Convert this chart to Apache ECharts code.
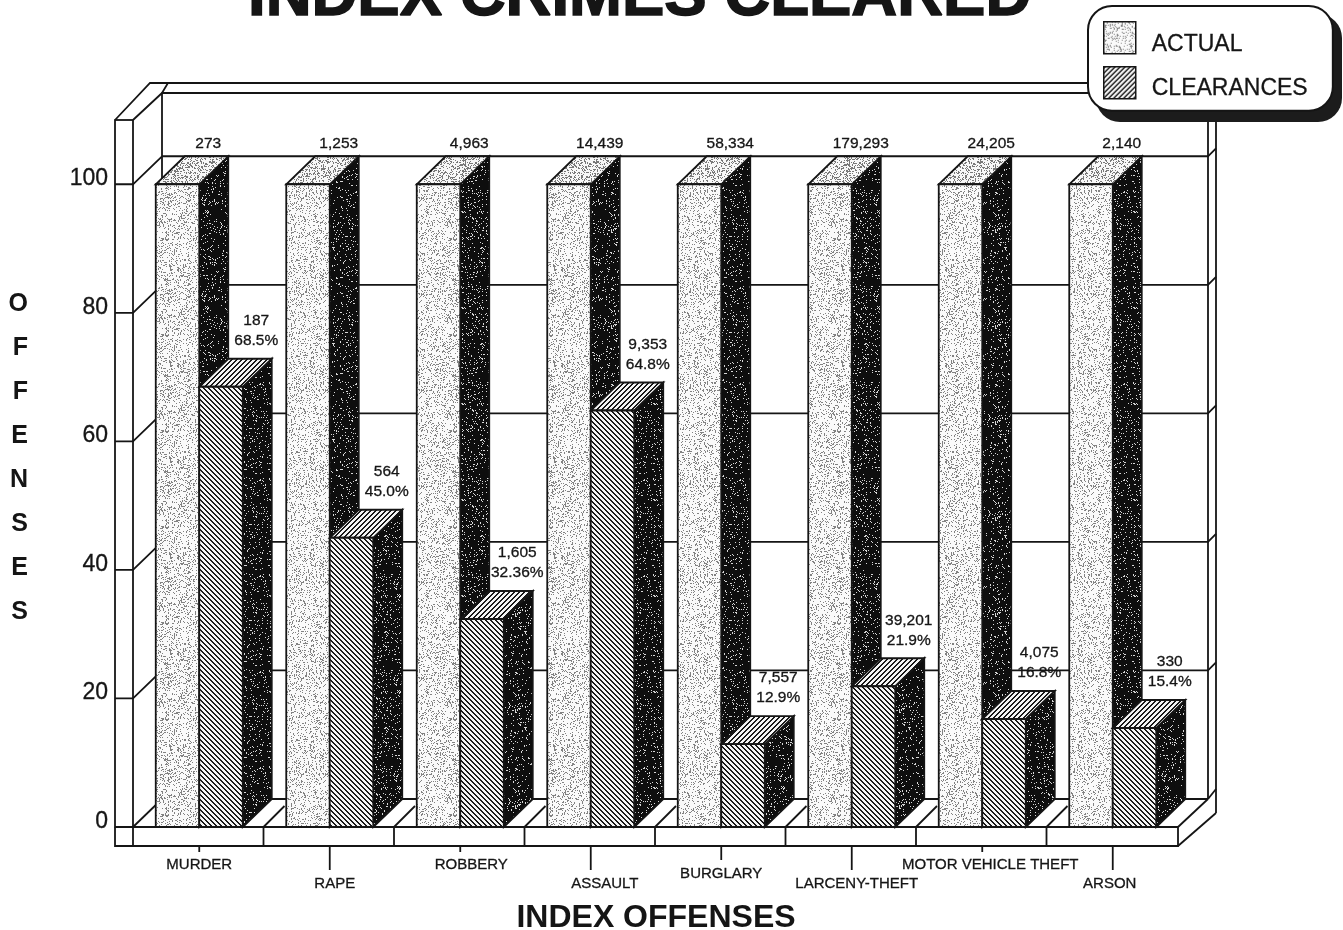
<!DOCTYPE html>
<html><head><meta charset="utf-8">
<style>html,body{margin:0;padding:0;background:#fff}#c{width:1343px;height:930px}</style>
<script src="https://cdn.jsdelivr.net/npm/echarts@6/dist/echarts.min.js"></script>
</head><body><div id="c"></div>
<script>
const categories = ['MURDER','RAPE','ROBBERY','ASSAULT','BURGLARY','LARCENY-THEFT','MOTOR VEHICLE THEFT','ARSON'];
const actualPct = [100,100,100,100,100,100,100,100];
const clearancePct = [68.5,45.0,32.36,64.8,12.9,21.9,16.8,15.4];
const actualCounts = ['273','1,253','4,963','14,439','58,334','179,293','24,205','2,140'];
const clearanceCounts = ['187','564','1,605','9,353','7,557','39,201','4,075','330'];
const clearanceRates = ['68.5%','45.0%','32.36%','64.8%','12.9%','21.9%','16.8%','15.4%'];
const yTicks = [20,40,60,80,100];

// layout only (not data)
const labelDrop = [0,19,0,19,9,19,0,19];
const labelShift = [0,5,11,14,0,5,8,-3];
const tickEnd = [6,24,6,24,14,24,6,24];
const DX = 29, DY = 28, INK = '#151515';
const FONT = '"Liberation Sans", Arial, sans-serif';

function tile(w,h,fn){
  const c=document.createElement('canvas');c.width=w;c.height=h;
  const g=c.getContext('2d');const im=g.createImageData(w,h);
  for(let y=0;y<h;y++)for(let x=0;x<w;x++){
    const v=fn(x,y),i=(y*w+x)*4;im.data[i]=im.data[i+1]=im.data[i+2]=v;im.data[i+3]=255;
  }
  g.putImageData(im,0,0);return {image:c,repeat:'repeat'};
}
let seed=12345;
const lcg=()=>{seed=(seed*1103515245+12345)&0x7fffffff;return (seed>>>8)%1000/1000;};
const speckle=(p,hi,lo)=>tile(96,96,()=>lcg()<p?lo:hi);
const fillLight=speckle(0.20,250,130);
const fillLightTop=speckle(0.30,248,120);
const fillDark=speckle(0.09,14,215);
const hatchBack=tile(5,5,(x,y)=>((x-y+10)%5)<2?25:245);
const hatchFwd=tile(5,5,(x,y)=>((x+y)%5)<2?25:245);

const ln=(pts,w)=>({type:'polyline',silent:true,shape:{points:pts},style:{fill:null,stroke:INK,lineWidth:w||1.8}});
const poly=(pts,fill)=>({type:'polygon',silent:true,shape:{points:pts},style:{fill:fill,stroke:INK,lineWidth:1.8}});

function bar3d(api,side,frontFill,topFill){
  const idx=api.value(0),v=api.value(1);
  const base=api.coord([idx,0]),top=api.coord([idx,v]);
  const w=api.size([1,0])[0]/3;
  const x0=side<0?base[0]-w:base[0],x1=x0+w,y0=base[1],y1=top[1];
  return [
    poly([[x1,y0],[x1+DX,y0-DY],[x1+DX,y1-DY],[x1,y1]],fillDark),
    poly([[x0,y1],[x0+DX,y1-DY],[x1+DX,y1-DY],[x1,y1]],topFill),
    poly([[x0,y0],[x1,y0],[x1,y1],[x0,y1]],frontFill)
  ];
}
const txt=(t,x,y)=>({type:'text',silent:true,style:{text:t,x:x,y:y,fill:INK,stroke:INK,lineWidth:0.3,fontSize:15.5,fontFamily:FONT,align:'center',verticalAlign:'middle'}});

function renderFrame(params,api){
  const g=params.coordSys,L=g.x,R=g.x+g.width,T=g.y,B=g.y+g.height;
  const sx=L-19,bw=g.width/8,fb=B+19,ch=[];
  const wx=L+DX-1,wr=R+DX+1,wo=R+DX+9;
  ch.push(ln([[sx,T],[L-1,T]]),ln([[sx,T],[sx+35,T-37],[1150,T-37]]),ln([[L-1,T],[wx,T-27],[1150,T-27]]),
    ln([[sx+35,T-37],[L+34,T-37],[wx,T-27]]),ln([[wx,T-27],[wx,B-DY]]),ln([[L-1,T],[L-1,fb]]));
  ch.push(ln([[wx,B-DY],[wr,B-DY]]),ln([[L-1,B],[wx,B-DY]]));
  ch.push(ln([[wr,T],[wr,B-DY]]),ln([[wo,T],[wo,B-DY+14]]));
  yTicks.concat([0]).forEach(v=>{
    const y=api.coord([0,v])[1];
    if(v>0)ch.push(ln([[sx,y],[L-1,y],[wx,y-DY]]),ln([[wx,y-DY],[wr,y-DY],[wo,y-DY-8]]));
    else ch.push(ln([[wr,y-DY],[wo,y-DY-10]]));
  });
  ch.push(ln([[sx,B],[R,B],[R,fb],[sx,fb],[sx,B]]));
  for(let i=1;i<8;i++){
    const x=L+bw*i-1;
    ch.push(ln([[x,B],[x,fb]]),ln([[x,B],[x+21,B-21]]));
  }
  ch.push(ln([[R,B],[wr,B-DY]]),ln([[R,fb],[wo,B-DY+14]]));
  categories.forEach((c,i)=>{
    const x=api.coord([i,0])[0];
    ch.push(ln([[x,fb],[x,fb+tickEnd[i]]]));
  });
  return {type:'group',children:ch};
}

const option={
  animation:false,
  backgroundColor:'#fff',
  title:{text:'INDEX CRIMES CLEARED',left:248,top:-35,padding:0,
    textStyle:{fontFamily:FONT,fontSize:63.5,fontWeight:'bold',color:INK,textBorderColor:INK,textBorderWidth:1.5}},
  graphic:[{type:'rect',z:5,silent:true,shape:{x:1096,y:14,width:246,height:108,r:24},style:{fill:'#1c1c1c'}}],
  legend:{z:6,left:1088,top:6,orient:'vertical',icon:'rect',itemWidth:32,itemHeight:32,itemGap:10,
    padding:[15,25,10,15],backgroundColor:'#fff',borderColor:INK,borderWidth:2,borderRadius:24,
    formatter:n=>'{s| }\n'+n,
    textStyle:{fontFamily:FONT,fontSize:23,color:INK,textBorderColor:INK,textBorderWidth:0.3,padding:[0,0,0,11],
      rich:{s:{lineHeight:13,fontSize:1}}},
    data:[{name:'ACTUAL',itemStyle:{color:fillLight,borderColor:INK,borderWidth:1.5}},
          {name:'CLEARANCES',itemStyle:{color:hatchFwd,borderColor:INK,borderWidth:1.5}}]},
  grid:{left:134,right:165,top:120,bottom:103,containLabel:false,outerBoundsMode:'none'},
  xAxis:{type:'category',
    data:categories.map((c,i)=>({value:c,textStyle:{padding:[labelDrop[i],labelShift[i]<0?-2*labelShift[i]:0,0,labelShift[i]>0?2*labelShift[i]:0]}})),
    axisLine:{show:false},axisTick:{show:false},
    axisLabel:{interval:0,margin:30,fontFamily:FONT,fontSize:15,color:INK,textBorderColor:INK,textBorderWidth:0.3},
    name:'INDEX OFFENSES',nameLocation:'middle',nameGap:75,
    nameTextStyle:{fontFamily:FONT,fontSize:32,fontWeight:'bold',color:INK}},
  yAxis:{type:'value',min:0,max:110,interval:20,offset:19,
    axisLine:{show:true,lineStyle:{color:INK,width:1.8}},axisTick:{show:false},splitLine:{show:false},
    axisLabel:{showMaxLabel:false,margin:7,fontFamily:FONT,fontSize:23,color:INK,textBorderColor:INK,textBorderWidth:0.3,
      lineHeight:11,formatter:v=>v+'\n '},
    name:'O\nF\nF\nE\nN\nS\nE\nS\n{s| }',nameLocation:'middle',nameGap:87,nameRotate:0,
    nameTextStyle:{fontFamily:FONT,fontSize:25,fontWeight:'bold',color:INK,lineHeight:44,rich:{s:{lineHeight:30,fontSize:1}}}},
  series:[
    {type:'custom',name:'frame',z:1,silent:true,data:[[0,0]],renderItem:renderFrame,clip:false},
    {type:'custom',name:'ACTUAL',z:2,clip:false,encode:{x:0,y:1},itemStyle:{color:fillLight},
      data:actualPct.map((v,i)=>[i,v]),
      renderItem(params,api){
        const i=api.value(0),p=api.coord([i,api.value(1)]);
        return {type:'group',children:[...bar3d(api,-1,fillLight,fillLightTop),txt(actualCounts[i],p[0]+9,p[1]-41)]};
      }},
    {type:'custom',name:'CLEARANCES',z:3,clip:false,encode:{x:0,y:1},itemStyle:{color:hatchFwd},
      data:clearancePct.map((v,i)=>[i,v]),
      renderItem(params,api){
        const i=api.value(0),p=api.coord([i,api.value(1)]),by=p[1]-DY;
        return {type:'group',children:[...bar3d(api,1,hatchBack,hatchFwd),
          txt(clearanceCounts[i],p[0]+57,by-38),txt(clearanceRates[i],p[0]+57,by-18)]};
      }}
  ]
};
echarts.init(document.getElementById('c'),null,{renderer:'canvas'}).setOption(option);
</script></body></html>
